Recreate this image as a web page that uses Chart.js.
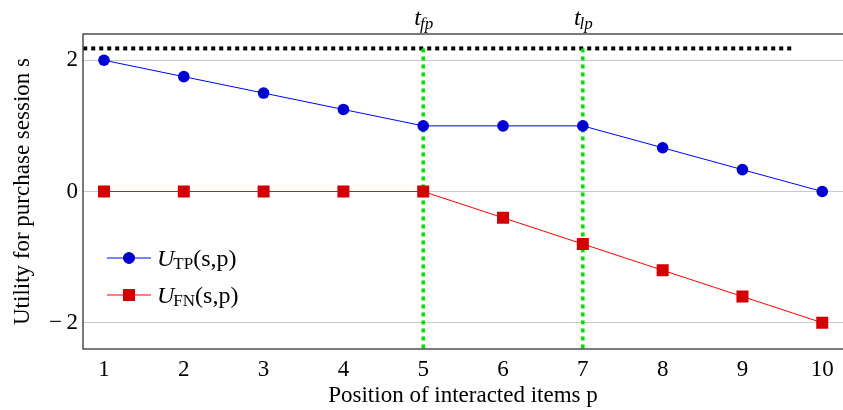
<!DOCTYPE html>
<html>
<head>
<meta charset="utf-8">
<script src="https://cdn.jsdelivr.net/npm/chart.js@4.4.1/dist/chart.umd.min.js"></script>
<style>
html,body{margin:0;padding:0;background:#fff;}
#wrap{width:843px;height:410px;position:relative;}
</style>
</head>
<body>
<div id="wrap"><canvas id="c" width="843" height="410"></canvas></div>
<script>
// ---- data ----
const positions = [1, 2, 3, 4, 5, 6, 7, 8, 9, 10];
const uTP = [2, 1.75, 1.5, 1.25, 1, 1, 1, 0.667, 0.333, 0];
const uFN = [0, 0, 0, 0, 0, -0.4, -0.8, -1.2, -1.6, -2];
const refLineX = [0.74, 9.66];
const refLineY = 2.18;
const markerPositions = [5, 7];
const markerLabels = [["t", "fp"], ["t", "lp"]];
const xTicks = [1, 2, 3, 4, 5, 6, 7, 8, 9, 10];
const yTicks = [-2, 0, 2];
const xRange = [0.737, 10.26];
const yRange = [-2.4, 2.4];

const SERIF = '"Liberation Serif", "DejaVu Serif", serif';
const BLUE_LINE = '#0000ff', BLUE_MARK = '#0000d2';
const RED_LINE = '#ff0000', RED_MARK = '#d20000';
const GREEN = '#00e000';

const datasets = [
  {
    label: 'ref',
    data: refLineX.map(x => ({x, y: refLineY})),
    borderColor: '#000', borderWidth: 4, borderDash: [4, 4],
    pointRadius: 0, order: 5
  },
  ...markerPositions.map(p => ({
    label: 'v' + p,
    data: [{x: p, y: refLineY}, {x: p, y: yRange[0]}],
    borderColor: GREEN, borderWidth: 3.5, borderDash: [4, 4],
    pointRadius: 0, order: 4
  })),
  {
    label: 'UTP',
    data: positions.map((x, i) => ({x, y: uTP[i]})),
    borderColor: BLUE_LINE, borderWidth: 1,
    pointStyle: 'circle', pointRadius: 5.8,
    pointBackgroundColor: BLUE_MARK, pointBorderColor: BLUE_MARK, pointBorderWidth: 0,
    order: 1
  },
  {
    label: 'UFN',
    data: positions.map((x, i) => ({x, y: uFN[i]})),
    borderColor: RED_LINE, borderWidth: 1,
    pointStyle: 'rect', pointRadius: 8.5,
    pointBackgroundColor: RED_MARK, pointBorderColor: RED_MARK, pointBorderWidth: 0,
    order: 2
  }
];

const overlay = {
  id: 'overlay',
  afterDraw(chart) {
    const ctx = chart.ctx, a = chart.chartArea;
    const xs = chart.scales.x;
    ctx.save();
    // frame
    ctx.strokeStyle = '#333';
    ctx.lineWidth = 1.3;
    ctx.strokeRect(a.left, a.top, a.right - a.left + 5, a.bottom - a.top);
    // marker labels t_fp, t_lp
    markerLabels.forEach((lab, i) => {
      const px = xs.getPixelForValue(markerPositions[i]);
      ctx.fillStyle = '#000';
      ctx.textBaseline = 'alphabetic';
      ctx.font = 'italic 24px ' + SERIF;
      const w1 = ctx.measureText(lab[0]).width;
      ctx.font = 'italic 17px ' + SERIF;
      const w2 = ctx.measureText(lab[1]).width;
      const start = px - (w1 + w2) / 2 + 1;
      ctx.font = 'italic 24px ' + SERIF;
      ctx.textAlign = 'left';
      ctx.fillText(lab[0], start, 25);
      ctx.font = 'italic 17px ' + SERIF;
      ctx.fillText(lab[1], start + w1 - 1, 29);
    });
    // legend
    const items = [
      {ds: chart.data.datasets[3], sub: 'TP', y: 258},
      {ds: chart.data.datasets[4], sub: 'FN', y: 295}
    ];
    items.forEach(it => {
      const x0 = 107, x1 = 151, mx = 129;
      ctx.strokeStyle = it.ds.borderColor;
      ctx.lineWidth = 1;
      ctx.setLineDash([]);
      ctx.beginPath(); ctx.moveTo(x0, it.y); ctx.lineTo(x1, it.y); ctx.stroke();
      Chart.helpers.drawPoint(ctx, {
        pointStyle: it.ds.pointStyle, radius: it.ds.pointRadius, borderWidth: 0, rotation: 0
      }, mx, it.y);
      ctx.fillStyle = it.ds.pointBackgroundColor;
      ctx.fill();
      ctx.fillStyle = '#000';
      ctx.textAlign = 'left';
      ctx.textBaseline = 'alphabetic';
      let tx = 157;
      const base = it.y + 8;
      ctx.font = 'italic 24px ' + SERIF;
      ctx.fillText('U', tx, base);
      tx += ctx.measureText('U').width - 1;
      ctx.font = '17px ' + SERIF;
      ctx.fillText(it.sub, tx, base + 3);
      tx += ctx.measureText(it.sub).width;
      ctx.font = '24px ' + SERIF;
      ctx.fillText('(s,p)', tx, base);
    });
    ctx.restore();
  }
};

new Chart(document.getElementById('c'), {
  type: 'line',
  data: { datasets },
  options: {
    responsive: false,
    animation: false,
    layout: { autoPadding: false, padding: { top: 34, left: 0, right: 0, bottom: 0 } },
    plugins: { legend: { display: false }, tooltip: { enabled: false } },
    elements: { line: { tension: 0 } },
    scales: {
      x: {
        type: 'linear', min: xRange[0], max: xRange[1],
        afterBuildTicks: s => { s.ticks = xTicks.map(v => ({value: v})); },
        afterFit: s => { s.height = 61; s.paddingLeft = 0; s.paddingRight = 0; },
        grid: { display: false, drawTicks: false },
        border: { display: false },
        ticks: { color: '#000', font: { family: SERIF, size: 23 }, padding: 7, maxRotation: 0, autoSkip: false },
        title: { display: true, text: 'Position of interacted items p', color: '#000',
                 font: { family: SERIF, size: 23 }, padding: { top: 0, bottom: 0 } }
      },
      y: {
        type: 'linear', min: yRange[0], max: yRange[1],
        afterBuildTicks: s => { s.ticks = yTicks.map(v => ({value: v})); },
        afterFit: s => { s.width = 83; },
        grid: { display: true, color: '#c8c8c8', lineWidth: 1, drawTicks: false },
        border: { display: false },
        ticks: { color: '#000', font: { family: SERIF, size: 23 }, padding: 5,
                 callback: v => v < 0 ? '\u2212\u2009' + Math.abs(v) : String(v) },
        title: { display: true, text: 'Utility for purchase session s', color: '#000',
                 font: { family: SERIF, size: 23 }, padding: { top: 9, bottom: 0 } }
      }
    }
  },
  plugins: [overlay]
});
</script>
</body>
</html>
